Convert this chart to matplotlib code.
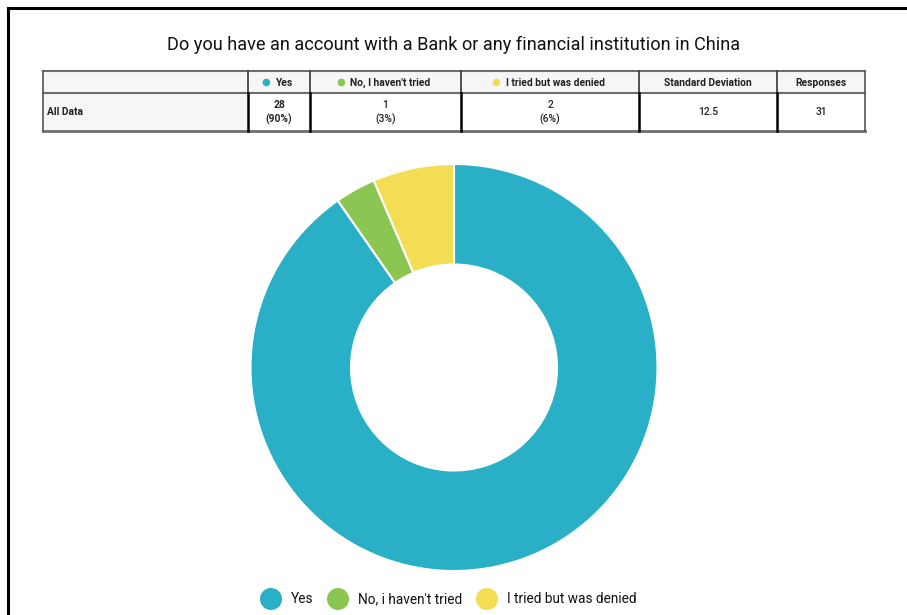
import matplotlib
matplotlib.use("Agg")
import matplotlib.pyplot as plt
from matplotlib.patches import Rectangle, Circle

plt.rcParams['font.family'] = ['Roboto', 'DejaVu Sans']

title = "Do you have an account with a Bank or any financial institution in China"
categories = ["Yes", "No, i haven't tried", "I tried but was denied"]
table_headers = ["Yes", "No, I haven't tried", "I tried but was denied", "Standard Deviation", "Responses"]
counts = [28, 1, 2]
percents = ["90%", "3%", "6%"]
std_dev = "12.5"
responses = "31"
row_label = "All Data"
colors = ["#29B0C6", "#8BC653", "#F3DD55"]

W, H = 907, 615
fig = plt.figure(figsize=(W / 100, H / 100), dpi=100)

# overlay axes in pixel coordinates
ov = fig.add_axes([0, 0, 1, 1])
ov.set_xlim(0, W)
ov.set_ylim(H, 0)
ov.axis('off')

# frame border (left and top)
ov.plot([8, 8], [H + 5, 8], color='black', lw=2.2, solid_capstyle='projecting')
ov.plot([8, W + 5], [8, 8], color='black', lw=2.2, solid_capstyle='projecting')

# title
ov.text(454, 45, title, ha='center', va='center', fontsize=13.1, color='#111111')

# table
cols = [43, 248, 310, 461, 639, 777, 865]
y0, y1, y2 = 71, 93, 131
light = '#F6F6F6'
ov.add_patch(Rectangle((cols[0], y0), cols[-1] - cols[0], y1 - y0, facecolor=light, edgecolor='none'))
ov.add_patch(Rectangle((cols[0], y1), cols[1] - cols[0], y2 - y1, facecolor=light, edgecolor='none'))
for y, lw in [(y0, 1.5), (y1, 1.5), (y2, 2.0)]:
    ov.plot([cols[0], cols[-1]], [y, y], color='#6E6E6E', lw=lw)
for i, x in enumerate(cols):
    if i in (0, len(cols) - 1):
        ov.plot([x, x], [y0, y2], color='#555555', lw=1.2)
    else:
        ov.plot([x, x], [y0, y1], color='#444444', lw=1.3)
        ov.plot([x, x], [y1, y2], color='black', lw=1.8)

tfs = 7.4
hy = (y0 + y1) / 2 + 0.5
r = fig.canvas.get_renderer()
for j, h in enumerate(table_headers):
    cx = (cols[j + 1] + cols[j + 2]) / 2
    if j < 3:
        txt = ov.text(cx + 5, hy, h, ha='center', va='center', fontsize=tfs, fontweight='bold', color='#222222')
        bb = txt.get_window_extent(renderer=r)
        ov.add_patch(Circle((bb.x0 - 9, hy), 3.8, facecolor=colors[j], edgecolor='none'))
    else:
        ov.text(cx, hy, h, ha='center', va='center', fontsize=tfs, fontweight='bold', color='#222222')

dy = (y1 + y2) / 2
ov.text(cols[0] + 4, dy, row_label, ha='left', va='center', fontsize=tfs, fontweight='bold', color='#222222')
for j, (c, p) in enumerate(zip(counts, percents)):
    cx = (cols[j + 1] + cols[j + 2]) / 2
    w = 'bold' if j == 0 else 'medium'
    ov.text(cx, dy - 7, str(c), ha='center', va='center', fontsize=tfs, fontweight=w, color='#222222')
    ov.text(cx, dy + 7, f"({p})", ha='center', va='center', fontsize=tfs, fontweight=w, color='#222222')
ov.text((cols[4] + cols[5]) / 2, dy, std_dev, ha='center', va='center', fontsize=tfs, fontweight='medium', color='#222222')
ov.text((cols[5] + cols[6]) / 2, dy, responses, ha='center', va='center', fontsize=tfs, fontweight='medium', color='#222222')

# donut
cx, cy, R, r_in = 454, 367.5, 203.5, 103
pax = fig.add_axes([(cx - R) / W, (H - cy - R) / H, 2 * R / W, 2 * R / H])
pax.pie(counts, colors=colors, startangle=90, counterclock=False, radius=1,
        wedgeprops=dict(width=1 - r_in / R, edgecolor='white', linewidth=1.5))
pax.set_xlim(-1, 1)
pax.set_ylim(-1, 1)
pax.set_aspect('equal')
pax.axis('off')

# legend
ly = 599
leg_x = [271, 338, 487]
for x, lab, col in zip(leg_x, categories, colors):
    ov.add_patch(Circle((x, ly), 11, facecolor=col, edgecolor='none'))
    ov.text(x + 20, ly, lab, ha='left', va='center', fontsize=9.8, color='#111111')

fig.savefig("out.png", dpi=100)
